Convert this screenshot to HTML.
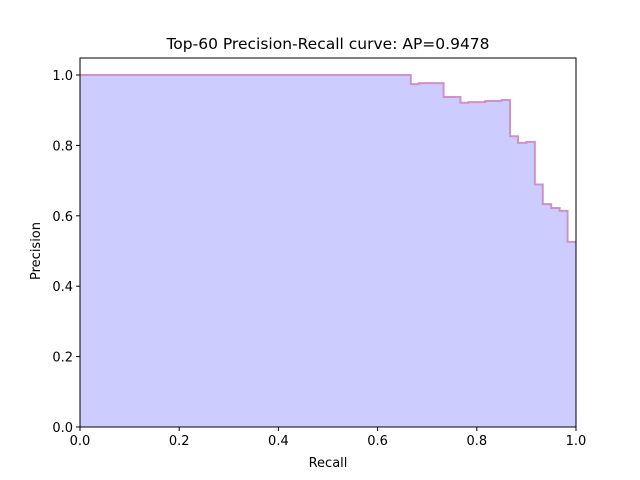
<!DOCTYPE html>
<html><head><meta charset="utf-8"><style>
html,body{margin:0;padding:0;background:#fff;}
svg{display:block;font-family:"DejaVu Sans","Liberation Sans",sans-serif;}
</style></head><body>
<svg id="chart" width="640" height="480">
<rect width="640" height="480" fill="#fff"/>
<text x="328" y="49" text-anchor="middle" font-size="15.5">Top-60 Precision-Recall curve: AP=0.9478</text>
<g id="plot"></g>
<text x="328" y="467" text-anchor="middle" font-size="13">Recall</text>
<text x="0" y="0" transform="translate(40,251) rotate(-90)" text-anchor="middle" font-size="13">Precision</text>
</svg>
<script>
const recall=[0,0.667,0.683,0.733,0.767,0.783,0.817,0.85,0.867,0.883,0.9,0.917,0.933,0.95,0.967,0.983,1.0];
const precision=[1,0.974,0.977,0.9375,0.921,0.923,0.926,0.929,0.826,0.807,0.810,0.689,0.633,0.622,0.614,0.526,0.526];
const xTicks=[0,0.2,0.4,0.6,0.8,1.0];
const yTicks=[0,0.2,0.4,0.6,0.8,1.0];
const L=80,R=576,T=58,B=427,Y1=75;
const sx=v=>L+v*(R-L);
const sy=v=>B-v*(B-Y1);
const NS='http://www.w3.org/2000/svg';
const g=document.getElementById('plot');
function mk(t,a){const e=document.createElementNS(NS,t);for(const k in a)e.setAttribute(k,a[k]);g.appendChild(e);return e;}
let d='M'+sx(recall[0])+','+sy(precision[0]);
for(let i=1;i<recall.length;i++){d+=' L'+sx(recall[i])+','+sy(precision[i-1])+' L'+sx(recall[i])+','+sy(precision[i]);}
const fill=mk('path',{d:d+' L'+sx(1)+','+sy(0)+' L'+sx(0)+','+sy(0)+' Z',fill:'#ccccff'});


const line=mk('path',{d:d,fill:'none',stroke:'#cf92c6','stroke-width':2});


const frame=mk('rect',{x:L,y:T,width:R-L,height:B-T,fill:'none',stroke:'#000','stroke-width':1});


xTicks.forEach(v=>{
 const t=mk('line',{x1:sx(v),x2:sx(v),y1:B,y2:B+4,stroke:'#000'});
 
 
 const l=mk('text',{x:sx(v),y:B+18,'text-anchor':'middle','font-size':13});
 l.textContent=v.toFixed(1);
 
 
});
yTicks.forEach(v=>{
 const t=mk('line',{x1:L-4,x2:L,y1:sy(v),y2:sy(v),stroke:'#000'});
 
 
 const l=mk('text',{x:L-7,y:sy(v)+5,'text-anchor':'end','font-size':13});
 l.textContent=v.toFixed(1);
 
 
});
</script>
</body></html>
